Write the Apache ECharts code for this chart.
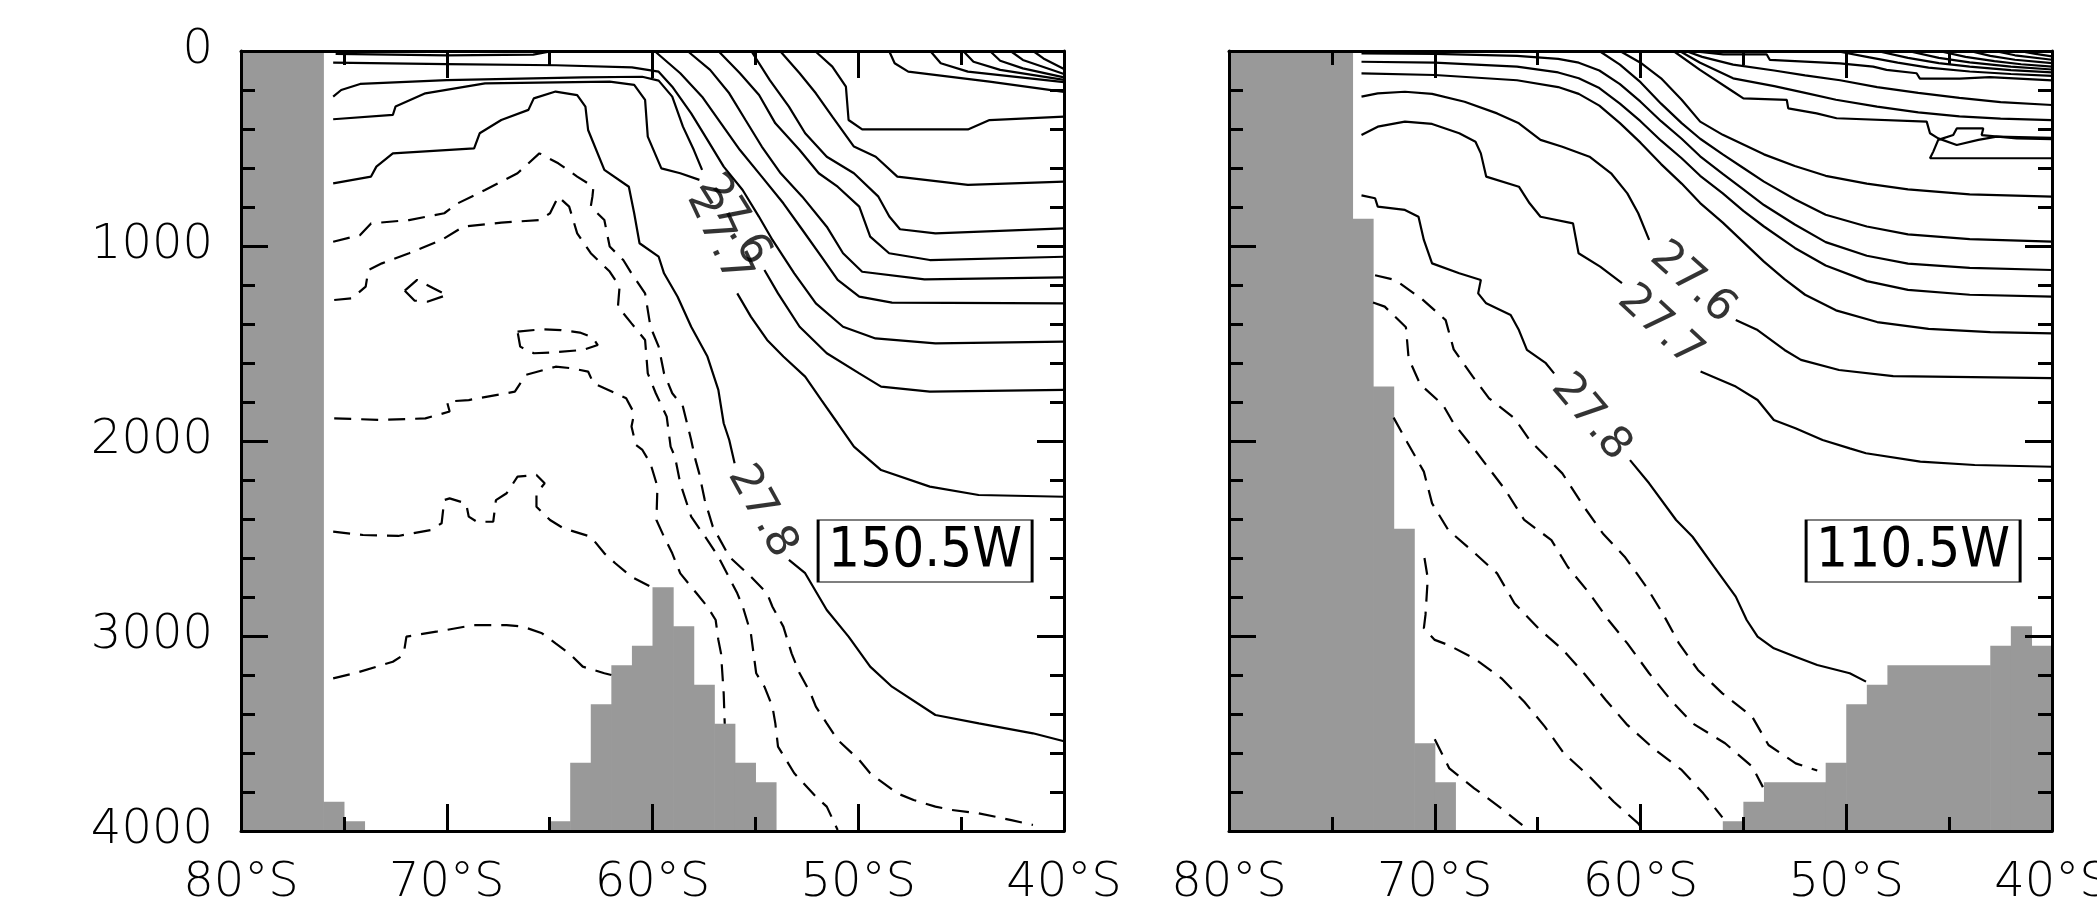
<!DOCTYPE html>
<html>
<head>
<meta charset="utf-8">
<title>Neutral density sections 150.5W / 110.5W</title>
<script src="https://cdn.jsdelivr.net/npm/echarts@6/dist/echarts.min.js"></script>
<style>
  html, body { margin: 0; padding: 0; background: #fff; overflow: hidden; }
  #chart { width: 2097px; height: 905px; }
</style>
</head>
<body>
<div id="chart"></div>
<script>
// axes
const latTicks = [-80, -70, -60, -50, -40]
const latTickLabels = ['80°S', '70°S', '60°S', '50°S', '40°S']
const depthTicks = [0, 1000, 2000, 3000, 4000]
const depthTickLabels = ['0', '1000', '2000', '3000', '4000']

const sectionNames = ['150.5W', '110.5W']
const boxLat = [-46.75, -46.75]
const boxDepth = [2564, 2564]

// land blocks [west, east, top depth]
const landLeft = [[-80, -76, 0], [-76, -75, 3850], [-75, -74, 3950], [-65, -64, 3950], [-64, -63, 3650],
  [-63, -62, 3350], [-62, -61, 3150], [-61, -60, 3050], [-60, -59, 2750], [-59, -58, 2950],
  [-58, -57, 3250], [-57, -56, 3450], [-56, -55, 3650], [-55, -54, 3750]]
const landRight = [[-80, -74, 0], [-74, -73, 860], [-73, -72, 1720], [-72, -71, 2450], [-71, -70, 3550],
  [-70, -69, 3750], [-56, -55, 3950], [-55, -54, 3850], [-54, -51, 3750], [-51, -50, 3650],
  [-50, -49, 3350], [-49, -48, 3250], [-48, -43, 3150], [-43, -42, 3050], [-42, -41, 2950], [-41, -40, 3050]]

// ---- 150.5W, solid contours [lat, depth] ----
const lTop = [[-75.4, 15], [-70, 22], [-65.8, 19], [-65.1, 5], [-65, 0]]
const l1490 = [[-75.52, 60], [-70, 67], [-64.7, 73], [-61, 84], [-59.7, 106], [-59.04, 183], [-58.12, 320],
  [-57.33, 456], [-56.54, 593], [-55.62, 713], [-54.83, 849], [-54.17, 969], [-53.11, 1140], [-52.06, 1294],
  [-50.74, 1414], [-49.16, 1474], [-46.25, 1499], [-40, 1490]]
const l276a = [[-75.52, 234], [-75.13, 200], [-74.21, 169], [-70, 149], [-63.4, 135], [-60.5, 132], [-59.7, 152],
  [-59.04, 234], [-58.52, 388], [-57.99, 508], [-57.59, 610]]
const l276b = [[-54.56, 1123], [-53.9, 1243], [-52.85, 1414], [-51.53, 1550], [-49.95, 1653], [-48.89, 1721],
  [-46.52, 1747], [-40, 1738]]
const l277a = [[-75.52, 350], [-72.62, 328], [-72.49, 285], [-71.04, 217], [-68.14, 166], [-62.08, 157],
  [-60.89, 174], [-60.36, 251], [-60.23, 439], [-59.57, 602], [-58.65, 627], [-57.72, 661]]
const l277b = [[-55.88, 1243], [-55.22, 1362], [-54.43, 1482], [-53.64, 1567], [-52.58, 1670], [-51.79, 1790],
  [-51, 1909], [-50.21, 2029], [-48.89, 2149], [-46.52, 2234], [-44.15, 2277], [-40, 2286]]
const l278a = [[-75.52, 679], [-73.68, 644], [-73.42, 593], [-72.62, 525], [-68.67, 499], [-68.4, 422],
  [-67.35, 354], [-66.03, 302], [-65.77, 243], [-64.71, 208], [-63.66, 226], [-63.26, 285], [-63.13, 405],
  [-62.34, 610], [-61.15, 696], [-60.89, 832], [-60.63, 986], [-59.7, 1055], [-59.44, 1140], [-58.78, 1260],
  [-58.12, 1414], [-57.33, 1567], [-56.8, 1738], [-56.54, 1909], [-56.27, 1995], [-56.01, 2114]]
const l278b = [[-53.37, 2610], [-52.58, 2678], [-51.53, 2867], [-50.47, 3003], [-49.42, 3157], [-48.36, 3260],
  [-46.25, 3405], [-44.14, 3448], [-41.51, 3499], [-40, 3540]]
const l1294 = [[-59.9, 0], [-58.65, 114], [-57.59, 234], [-56.67, 371], [-55.75, 508], [-54.69, 644],
  [-53.64, 781], [-52.71, 918], [-51.79, 1055], [-51, 1174], [-49.95, 1260], [-48.36, 1290], [-40, 1294]]
const l1171 = [[-58.3, 0], [-57.2, 97], [-56.27, 217], [-55.48, 354], [-54.69, 490], [-53.77, 627],
  [-52.72, 747], [-51.53, 901], [-50.74, 1037], [-49.81, 1132], [-46.78, 1171], [-40, 1161]]
const l1063 = [[-56.8, 0], [-55.75, 114], [-54.82, 226], [-54.03, 371], [-52.85, 508], [-51.92, 627],
  [-51, 696], [-49.95, 798], [-49.42, 952], [-48.5, 1037], [-46.52, 1072], [-40, 1055]]
const l932 = [[-55.2, 0], [-54.3, 149], [-53.37, 285], [-52.58, 422], [-51.53, 542], [-50.21, 627],
  [-49.02, 747], [-48.49, 849], [-47.97, 914], [-46.25, 935], [-40, 910]]
const l675 = [[-53.8, 0], [-52.85, 114], [-52.06, 217], [-51.26, 337], [-50.21, 490], [-49.15, 542],
  [-48.1, 644], [-44.67, 687], [-40, 670]]
const l345 = [[-52.1, 0], [-51.26, 80], [-50.6, 183], [-50.47, 354], [-49.81, 402], [-44.67, 402],
  [-43.62, 354], [-40, 337]]
const lK1 = [[-48.5, 0], [-48.23, 63], [-47.57, 106], [-43.62, 157], [-40, 210]]
const lK2 = [[-46.5, 0], [-45.99, 63], [-44.67, 106], [-40, 160]]
const lK3 = [[-44.9, 0], [-44.4, 55], [-43.1, 97], [-40, 148]]
const lK4 = [[-43.6, 0], [-43.1, 50], [-42, 89], [-40, 135]]
const lK5 = [[-42.6, 0], [-42, 46], [-40, 118]]
const lK6 = [[-41.5, 0], [-41, 38], [-40, 92]]

// ---- 150.5W, dashed contours ----
const dL1 = [[-75.52, 978], [-74.21, 944], [-73.68, 884], [-71.83, 867], [-70.12, 832], [-69.46, 781],
  [-68.14, 713], [-66.56, 627], [-65.5, 525], [-64.58, 576], [-63.66, 644], [-62.87, 696], [-62.92, 747],
  [-63, 798], [-62.34, 867], [-62.08, 1003], [-61.42, 1072], [-61.02, 1140], [-60.36, 1243], [-60.1, 1414],
  [-59.7, 1516], [-59.44, 1653], [-59.04, 1755], [-58.52, 1824], [-58.12, 1995], [-57.91, 2097],
  [-57.73, 2166], [-57.46, 2303], [-57.07, 2439], [-56.27, 2593], [-55.22, 2696], [-54.43, 2781],
  [-54.17, 2850], [-53.64, 2952], [-53.24, 3089], [-52.85, 3191], [-52.32, 3294], [-52.06, 3362],
  [-51.53, 3448], [-51, 3533], [-49.95, 3636], [-49.42, 3704], [-48.1, 3807], [-47.31, 3841],
  [-46.25, 3875], [-45.46, 3892], [-44.15, 3909], [-42.56, 3944], [-41.51, 3969]]
const dL2 = [[-75.47, 1277], [-74.6, 1268], [-73.94, 1208], [-73.81, 1123], [-73.15, 1089], [-71.83, 1037],
  [-70.25, 969], [-69.2, 901], [-67.35, 880], [-65.5, 867], [-64.98, 832], [-64.58, 747], [-64.05, 798],
  [-63.66, 935], [-63, 1037], [-62.08, 1131], [-61.6, 1208], [-61.68, 1311], [-61.02, 1397], [-60.36, 1482],
  [-60.23, 1653], [-59.84, 1755], [-59.31, 1875], [-59.12, 2029], [-58.91, 2080], [-58.65, 2217],
  [-58.12, 2388], [-57.33, 2508], [-56.8, 2593], [-55.88, 2781], [-55.61, 2850], [-55.22, 2986],
  [-54.96, 3191], [-54.56, 3260], [-54.17, 3362], [-54.03, 3448], [-53.9, 3567], [-53.11, 3704],
  [-52.06, 3824], [-51.53, 3875], [-51, 3995]]
const dL3 = [[-75.47, 1884], [-73.15, 1892], [-71.04, 1884], [-69.86, 1849], [-69.99, 1798], [-68.93, 1790],
  [-66.69, 1747], [-66.16, 1661], [-64.71, 1619], [-63.92, 1627], [-63.13, 1644], [-62.87, 1704],
  [-61.81, 1755], [-61.28, 1781], [-60.89, 1858], [-61.02, 1926], [-60.81, 2020], [-60.49, 2046],
  [-60.1, 2115], [-59.76, 2234], [-59.81, 2405], [-59.44, 2491], [-59.04, 2576], [-58.65, 2679],
  [-57.86, 2781], [-57.33, 2850], [-56.93, 2918], [-56.8, 3020], [-56.67, 3089], [-56.54, 3294], [-56.49, 3450]]
const dL4 = [[-75.52, 2465], [-74.07, 2482], [-72.36, 2487], [-70.78, 2457], [-70.25, 2422], [-70.12, 2303],
  [-69.86, 2294], [-69.06, 2320], [-68.93, 2388], [-68.54, 2414], [-67.74, 2414], [-67.61, 2303],
  [-67.09, 2268], [-66.56, 2183], [-65.64, 2174], [-65.24, 2217], [-65.64, 2268], [-65.64, 2337],
  [-64.98, 2405], [-64.32, 2448], [-63, 2491], [-62.34, 2576], [-61.81, 2627], [-61.02, 2696], [-60.1, 2747]]
const dL5 = [[-75.52, 3217], [-74.47, 3191], [-72.62, 3132], [-72.1, 3097], [-71.96, 3003], [-70.51, 2978],
  [-68.67, 2944], [-67.09, 2944], [-66.3, 2952], [-65.37, 2986], [-64.71, 3038], [-64.05, 3089],
  [-63.39, 3157], [-62.34, 3191], [-62, 3200]]
const dLoop1 = [[-72.04, 1229], [-71.44, 1174], [-70.65, 1217], [-69.99, 1251], [-70.91, 1285], [-71.57, 1280], [-72.04, 1229]]
const dLoop2 = [[-66.56, 1439], [-65.37, 1427], [-64.45, 1431], [-63.53, 1444], [-62.92, 1468], [-62.66, 1508],
  [-63.39, 1533], [-64.98, 1547], [-65.77, 1550], [-66.43, 1516], [-66.56, 1439]]

// ---- 110.5W, solid contours ----
const r278a = [[-73.56, 740], [-72.9, 755], [-72.77, 798], [-71.45, 815], [-70.79, 850], [-70.53, 969],
  [-70.13, 1089], [-68.81, 1140], [-67.76, 1174], [-67.89, 1243], [-67.5, 1294], [-66.31, 1354],
  [-65.91, 1431], [-65.52, 1533], [-64.6, 1601], [-64.2, 1653]]
const r278b = [[-60.51, 2098], [-59.58, 2217], [-58.27, 2405], [-57.47, 2491], [-56.42, 2645], [-55.37, 2798],
  [-54.84, 2918], [-54.31, 3003], [-53.52, 3063], [-52.47, 3106], [-51.41, 3149], [-49.83, 3191], [-49.04, 3234]]
const r277a = [[-73.56, 431], [-72.77, 388], [-71.45, 362], [-70.13, 374], [-68.81, 422], [-68.02, 465],
  [-67.76, 525], [-67.5, 644], [-65.91, 696], [-65.39, 781], [-64.86, 850], [-63.28, 884], [-63.01, 1037],
  [-61.96, 1106], [-60.9, 1191]]
const r277b = [[-57.08, 1644], [-55.37, 1721], [-54.31, 1790], [-53.52, 1892], [-52.47, 1935], [-51.15, 1995],
  [-49.83, 2038], [-49.04, 2063], [-46.4, 2106], [-43.76, 2123], [-40, 2132]]
const r276a = [[-73.56, 234], [-72.77, 217], [-71.45, 209], [-70.13, 220], [-68.55, 260], [-66.97, 320],
  [-65.91, 371], [-64.86, 456], [-63.8, 491], [-62.48, 542], [-61.43, 627], [-60.64, 730], [-60.11, 832], [-59.58, 969]]
const r276b = [[-55.37, 1379], [-54.31, 1431], [-53, 1533], [-52.2, 1584], [-50.35, 1636], [-47.72, 1667], [-40, 1678]]
const r1448 = [[-73.56, 115], [-70, 123], [-66, 150], [-64, 185], [-63, 220], [-62, 280], [-61, 370], [-60, 470],
  [-59, 580], [-58, 680], [-57.1, 780], [-56, 880], [-55, 980], [-54, 1080], [-53, 1170], [-52, 1250],
  [-50.5, 1330], [-48.5, 1390], [-46, 1425], [-43, 1442], [-40, 1448]]
const r1260 = [[-73.56, 55], [-70, 60], [-66, 80], [-64, 110], [-63, 140], [-62, 190], [-61, 270], [-60, 360],
  [-59, 460], [-58, 550], [-57.1, 640], [-56, 730], [-55, 820], [-54, 900], [-52.5, 1010], [-51, 1100],
  [-49, 1180], [-47, 1225], [-44, 1250], [-40, 1260]]
const r1123 = [[-73.56, 12], [-70, 15], [-66, 25], [-64, 40], [-63, 60], [-62, 100], [-61, 170], [-60, 260],
  [-59, 360], [-58, 450], [-57.1, 540], [-56, 630], [-55, 710], [-54, 790], [-52.5, 890], [-51, 980],
  [-49, 1050], [-47, 1090], [-44, 1112], [-40, 1123]]
const r978 = [[-62, 0], [-61, 70], [-60, 160], [-59, 270], [-58, 370], [-57.1, 450], [-56, 530], [-55, 600],
  [-54, 670], [-52.5, 760], [-51, 840], [-49, 900], [-47, 940], [-44, 965], [-40, 978]]
const r747 = [[-61, 0], [-60, 60], [-59, 140], [-58, 250], [-57.1, 362], [-56, 430], [-55, 480], [-54, 530],
  [-52.5, 590], [-51, 640], [-49, 680], [-47, 710], [-44, 735], [-40, 747]]
const r448 = [[-58.4, 0], [-57.11, 97], [-55.49, 209], [-55, 243], [-52.89, 251], [-52.82, 294], [-51.44, 320],
  [-50.47, 345], [-46.09, 362], [-45.93, 422], [-45.53, 448], [-44.63, 482], [-43.58, 456], [-42.69, 439], [-40, 445]]
const rLobe = [[-40, 550], [-45.93, 550], [-45.77, 516], [-45.53, 456], [-44.8, 431], [-44.63, 397],
  [-43.34, 397], [-43.42, 431], [-41.72, 448], [-40, 452]]
const r354 = [[-58.1, 0], [-57.1, 60], [-55.5, 140], [-53.5, 180], [-52, 215], [-50.5, 250], [-48.5, 285],
  [-46.5, 315], [-44.5, 335], [-42.5, 347], [-40, 354]]
const r277 = [[-57.8, 0], [-57, 30], [-55.5, 70], [-53.5, 100], [-52, 125], [-50.3, 150], [-48.5, 185],
  [-46.5, 215], [-44.5, 240], [-42.5, 262], [-40, 277]]
const r151 = [[-57.5, 0], [-57.11, 5], [-55.98, 17], [-53.87, 17], [-53.71, 46], [-50.31, 63], [-48.69, 80],
  [-48.04, 97], [-46.58, 114], [-46.42, 142], [-44.48, 142], [-43.02, 134], [-40, 151]]
const rB1 = [[-50.5, 0], [-49, 30], [-47.5, 60], [-46, 85], [-44, 105], [-42, 118], [-40, 128]]
const rB2 = [[-48.5, 0], [-47, 35], [-45.5, 62], [-44, 80], [-42, 98], [-40, 110]]
const rB3 = [[-47, 0], [-45.5, 35], [-44, 58], [-42, 80], [-40, 95]]
const rB4 = [[-45.5, 0], [-44.2, 30], [-42.8, 52], [-41.5, 68], [-40, 80]]
const rB5 = [[-44, 0], [-43, 25], [-41.8, 45], [-40, 62]]
const rB6 = [[-42.8, 0], [-41.8, 22], [-40, 45]]
const rB7 = [[-41.6, 0], [-40.8, 15], [-40, 28]]

// ---- 110.5W, dashed contours ----
const rD1 = [[-72.9, 1150], [-71.93, 1174], [-70.61, 1273], [-69.47, 1380], [-69.08, 1530], [-68.15, 1670],
  [-67.36, 1781], [-66.12, 1884], [-65.39, 1995], [-63.8, 2166], [-62.75, 2337], [-61.83, 2474],
  [-60.77, 2593], [-59.72, 2747], [-58.92, 2884], [-58.13, 3038], [-57.21, 3174], [-56.02, 3294],
  [-54.57, 3414], [-53.78, 3559], [-52.46, 3653], [-51.41, 3690]]
const rD2 = [[-73, 1290], [-72.43, 1311], [-71.4, 1417], [-71.27, 1576], [-70.71, 1709], [-69.6, 1815],
  [-69.08, 1910], [-68.02, 2050], [-66.57, 2251], [-65.65, 2405], [-64.33, 2508], [-63.54, 2645],
  [-62.48, 2781], [-61.56, 2918], [-60.64, 3038], [-59.58, 3191], [-58.53, 3328], [-57.47, 3448],
  [-55.89, 3550], [-54.57, 3670], [-54.05, 3775]]
const rD3 = [[-72, 1880], [-71.32, 2010], [-70.53, 2157], [-70.13, 2320], [-69.34, 2457], [-68.08, 2573],
  [-66.97, 2679], [-66.12, 2833], [-64.91, 2966], [-63.8, 3068], [-62.75, 3191], [-61.69, 3328],
  [-60.64, 3456], [-59.32, 3581], [-58, 3687], [-56.95, 3807], [-56.02, 3930]]
const rD4 = [[-70.5, 2600], [-70.34, 2704], [-70.45, 2892], [-70.53, 2961], [-70, 3020], [-69.34, 3046],
  [-68.08, 3115], [-66.76, 3217], [-65.65, 3337], [-64.65, 3465], [-63.72, 3602], [-62.48, 3721],
  [-61.3, 3850], [-60.11, 3961], [-59.85, 4000]]
const rD5 = [[-70, 3530], [-69.29, 3679], [-68.08, 3781], [-66.76, 3884], [-65.65, 3978], [-65.4, 4000]]

// contour labels
const labelTextLeft = ['27.8', '27.7', '27.6']
const labelLatLeft = [-54.69, -56.8, -56.06]
const labelDepthLeft = [2362, 952, 867]
const labelTextRight = ['27.6', '27.7', '27.8']
const labelLatRight = [-57.47, -59.06, -62.42]
const labelDepthRight = [1190, 1413, 1880]
const labelAngleLeft = [-61, -65, -58]
const labelAngleRight = [-42, -43, -50]

const solidLeft = [lTop, l1490, l276a, l276b, l277a, l277b, l278a, l278b, l1294, l1171, l1063, l932, l675, l345,
  lK1, lK2, lK3, lK4, lK5, lK6]
const dashedLeft = [dL1, dL2, dL3, dL4, dL5, dLoop1, dLoop2]
const solidRight = [r278a, r278b, r277a, r277b, r276a, r276b, r1448, r1260, r1123, r978, r747, r448, rLobe,
  r354, r277, r151, rB1, rB2, rB3, rB4, rB5, rB6, rB7]
const dashedRight = [rD1, rD2, rD3, rD4, rD5]

const FONT = '"DejaVu Sans", "Noto Sans", sans-serif'
const chart = echarts.init(document.getElementById('chart'))

function xAxes(gi) {
  const base = {
    gridIndex: gi, type: 'value', min: -80, max: -40, interval: 10, z: 10,
    axisLine: { show: true, onZero: false, lineStyle: { color: '#000', width: 3 } },
    axisTick: { show: true, inside: true, length: 27, lineStyle: { color: '#000', width: 3 } },
    minorTick: { show: true, splitNumber: 2, length: 14, lineStyle: { color: '#000', width: 3 } },
    splitLine: { show: false },
    minorSplitLine: { show: false },
  }
  return [
    Object.assign({}, base, {
      position: 'bottom',
      axisLabel: {
        show: true, margin: 29, fontSize: 48, color: '#000', fontFamily: FONT, fontWeight: 200,
        showMinLabel: true, showMaxLabel: true, hideOverlap: false,
        formatter: (v) => latTickLabels[latTicks.indexOf(v)] || '',
      },
    }),
    Object.assign({}, base, { position: 'top', axisLabel: { show: false } }),
  ]
}

function yAxes(gi) {
  const base = {
    gridIndex: gi, type: 'value', min: 0, max: 4000, interval: 1000, inverse: true, z: 10,
    axisLine: { show: true, onZero: false, lineStyle: { color: '#000', width: 3 } },
    axisTick: { show: true, inside: true, length: 27, lineStyle: { color: '#000', width: 3 } },
    minorTick: { show: true, splitNumber: 5, length: 14, lineStyle: { color: '#000', width: 3 } },
    splitLine: { show: false },
    minorSplitLine: { show: false },
  }
  return [
    Object.assign({}, base, {
      position: 'left',
      axisLabel: {
        show: gi === 0, margin: 28, fontSize: 48, color: '#000', fontFamily: FONT, fontWeight: 200,
        formatter: (v) => depthTickLabels[depthTicks.indexOf(v)] || '',
      },
    }),
    Object.assign({}, base, { position: 'right', axisLabel: { show: false } }),
  ]
}

function landSeries(gi, blocks) {
  return {
    type: 'custom',
    xAxisIndex: gi * 2,
    yAxisIndex: gi * 2,
    data: blocks,
    silent: true,
    z: 1,
    encode: { x: [0, 1], y: 2 },
    renderItem: (params, api) => {
      const p0 = api.coord([api.value(0), api.value(2)])
      const p1 = api.coord([api.value(1), 4000])
      return {
        type: 'rect',
        shape: { x: p0[0], y: p0[1], width: p1[0] - p0[0] + 0.6, height: p1[1] - p0[1] },
        style: { fill: '#999999' },
      }
    },
  }
}

function contourSeries(gi, pts, dashed) {
  return {
    type: 'line',
    xAxisIndex: gi * 2,
    yAxisIndex: gi * 2,
    data: pts,
    showSymbol: false,
    symbol: 'none',
    silent: true,
    clip: true,
    z: 3,
    lineStyle: { color: '#000', width: 2.2, type: dashed ? [17, 10] : 'solid' },
  }
}

function labelSeries(gi, texts, lats, depths, angles) {
  return {
    type: 'scatter',
    xAxisIndex: gi * 2,
    yAxisIndex: gi * 2,
    symbolSize: 0,
    silent: true,
    z: 5,
    data: texts.map((t, i) => ({
      value: [lats[i], depths[i]],
      label: { formatter: t, rotate: angles[i] },
    })),
    label: { show: true, position: 'inside', fontSize: 44, color: '#000', fontFamily: FONT },
  }
}

function boxSeries(gi) {
  return {
    type: 'scatter',
    xAxisIndex: gi * 2,
    yAxisIndex: gi * 2,
    symbol: 'rect',
    symbolSize: [214, 62],
    silent: true,
    z: 6,
    data: [[boxLat[gi], boxDepth[gi]]],
    itemStyle: { color: '#fff', borderColor: '#000', borderWidth: 1.6, opacity: 1 },
    label: {
      show: true, position: 'inside', formatter: sectionNames[gi], fontSize: 56, color: '#000',
      textBorderWidth: 0, opacity: 1,
      fontFamily: '"DejaVu Sans Condensed", "DejaVu Sans", sans-serif',
    },
  }
}

const series = [
  landSeries(0, landLeft),
  landSeries(1, landRight),
  ...solidLeft.map((p) => contourSeries(0, p, false)),
  ...dashedLeft.map((p) => contourSeries(0, p, true)),
  ...solidRight.map((p) => contourSeries(1, p, false)),
  ...dashedRight.map((p) => contourSeries(1, p, true)),
  labelSeries(0, labelTextLeft, labelLatLeft, labelDepthLeft, labelAngleLeft),
  labelSeries(1, labelTextRight, labelLatRight, labelDepthRight, labelAngleRight),
  boxSeries(0),
  boxSeries(1),
]

chart.setOption({
  animation: false,
  backgroundColor: '#fff',
  grid: [
    { left: 241, top: 51, width: 823, height: 780, containLabel: false, outerBoundsMode: 'none' },
    { left: 1229, top: 51, width: 823, height: 780, containLabel: false, outerBoundsMode: 'none' },
  ],
  xAxis: [...xAxes(0), ...xAxes(1)],
  yAxis: [...yAxes(0), ...yAxes(1)],
  series,
})
</script>
</body>
</html>
